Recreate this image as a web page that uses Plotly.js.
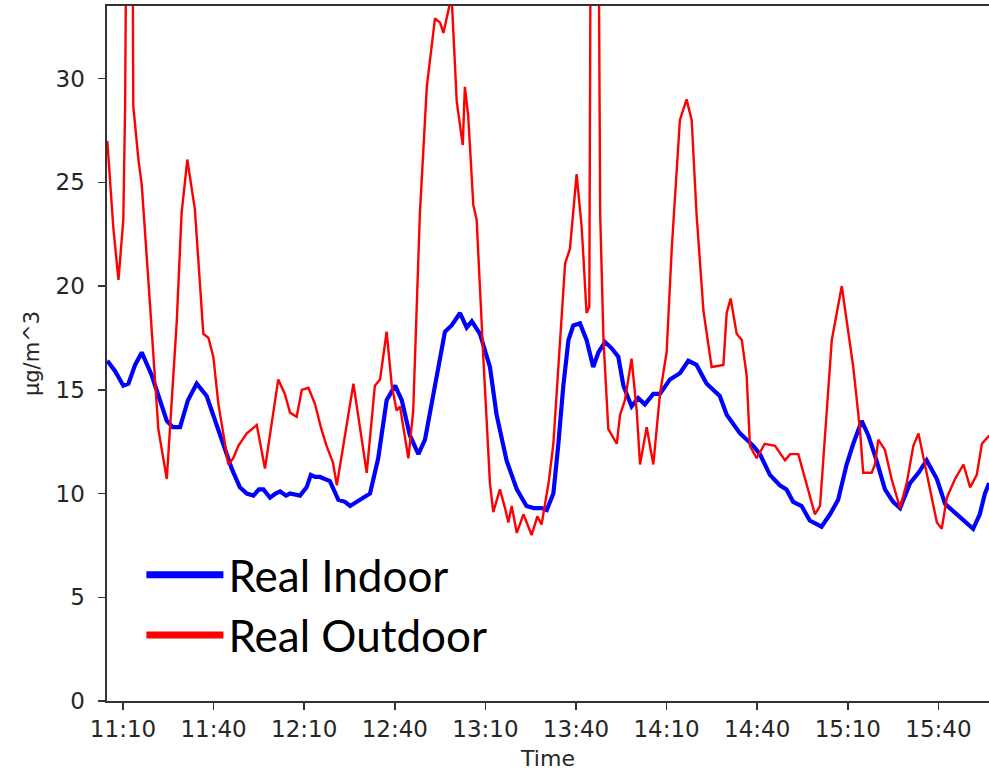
<!DOCTYPE html>
<html>
<head>
<meta charset="utf-8">
<script src="https://cdn.plot.ly/plotly-3.0.1.min.js"></script>
<style>html,body{margin:0;padding:0;background:#fff;}#chart{width:989px;height:771px;}</style>
</head>
<body>
<div id="chart"></div>
<script>
// Minutes after 11:00 and PM concentration (µg/m^3)
var outdoorMinutes = [4.8,6.8,8.5,10.1,10.7,11.2,13.1,13.4,15.1,16.2,18.9,21.7,24.5,27.8,29.4,31.3,33.8,35.5,36.6,38.3,39.9,41.6,44.9,46.5,48.2,51.0,54.3,57.0,61.4,63.6,65.3,67.5,69.2,71.4,73.6,75.5,77.4,79.5,80.8,86.3,90.7,93.4,95.1,97.3,99.0,100.6,101.7,104.5,106.1,108.3,110.6,113.3,115.0,116.1,117.7,118.8,120.5,122.5,123.2,124.3,126.0,127.1,129.3,131.5,132.6,134.8,136.5,137.6,138.7,140.4,142.6,145.3,147.2,148.6,151.0,152.5,156.4,158.0,160.2,161.9,163.5,164.4,164.9,167.4,168.0,169.1,170.7,173.5,174.6,176.2,178.4,180.1,181.2,183.4,185.6,187.8,190.0,191.7,194.4,196.6,198.3,199.9,202.2,204.9,208.8,209.9,211.2,213.2,214.9,216.5,217.6,219.8,222.5,225.9,229.2,230.9,233.6,235.8,239.1,240.8,242.5,244.7,248.0,250.2,251.8,254.0,255.1,257.9,259.0,260.1,262.3,264.5,267.3,269.5,271.7,273.4,275.0,277.3,279.5,281.1,282.8,285.5,288.3,290.5,292.7,294.4,296.8];
var outdoorValues = [27.0,22.8,20.3,23.2,28.7,40,40,28.7,26.1,24.9,19.2,13.1,10.7,18.3,23.5,26.1,23.7,20.0,17.7,17.5,16.6,14.3,11.4,11.7,12.3,12.9,13.3,11.2,15.5,14.8,13.9,13.7,15.0,15.1,14.3,13.2,12.3,11.5,10.4,15.3,11.0,15.2,15.5,17.8,15.2,14.0,14.2,11.7,14.0,23.5,29.6,32.9,32.7,32.2,33.2,34.0,28.9,26.8,29.6,28.2,23.9,23.2,16.6,10.5,9.1,10.2,9.3,8.6,9.4,8.1,9.0,8.0,8.9,8.5,10.6,12.4,21.1,21.8,25.4,22.8,18.7,19.0,40,40,23.5,17.4,13.1,12.4,13.8,14.5,16.5,14.0,11.4,13.2,11.4,14.8,16.8,21.8,28.0,29.0,28.0,23.5,18.8,16.1,16.2,18.7,19.4,17.7,17.4,15.7,12.3,11.7,12.4,12.3,11.6,11.9,11.9,10.7,9.0,9.4,13.1,17.4,20.0,17.8,16.1,13.1,11.0,11.0,11.4,12.6,12.1,10.7,9.3,10.5,12.3,12.9,11.8,10.2,8.6,8.3,9.8,10.7,11.4,10.3,10.9,12.4,12.8];

var indoorMinutes = [4.8,7.4,10.1,11.8,14.0,16.2,19.5,22.3,24.5,26.5,28.9,31.5,34.4,37.7,42.1,46.0,48.7,51.0,53.2,55.0,56.5,58.7,60.5,62.0,64.0,65.3,68.6,70.8,72.2,73.6,75.2,78.5,81.3,83.5,85.2,87.5,89.6,91.8,94.5,97.3,100.1,102.3,105.0,107.8,110.0,112.8,115.0,116.6,118.8,121.6,123.8,125.5,128.2,131.5,133.7,137.0,140.4,143.6,146.0,148.6,150.3,152.5,154.1,155.8,157.5,159.1,161.3,163.5,165.7,167.4,169.6,171.8,174.0,175.7,178.4,180.6,182.8,185.6,187.8,191.1,194.4,197.2,199.9,203.2,207.6,209.9,214.3,218.7,220.9,224.2,227.5,229.7,231.9,234.7,237.4,241.3,244.1,246.8,249.6,251.8,254.6,256.8,259.5,262.3,265.0,267.3,270.6,273.4,276.1,279.5,282.2,286.0,288.8,291.5,293.7,295.4,296.8];
var indoorValues = [16.4,15.9,15.2,15.3,16.2,16.8,15.7,14.5,13.5,13.2,13.2,14.5,15.3,14.7,12.9,11.2,10.3,10.0,9.9,10.2,10.2,9.8,10.0,10.1,9.9,10.0,9.9,10.3,10.9,10.8,10.8,10.6,9.7,9.6,9.4,9.6,9.8,10.0,11.7,14.5,15.2,14.5,12.8,11.9,12.6,14.8,16.8,17.8,18.1,18.7,18.0,18.3,17.7,16.1,13.8,11.6,10.2,9.4,9.3,9.3,9.2,10.0,12.3,15.2,17.4,18.1,18.2,17.4,16.1,16.8,17.3,17.0,16.6,15.2,14.2,14.6,14.3,14.8,14.8,15.5,15.8,16.4,16.2,15.3,14.7,13.8,12.9,12.3,11.9,10.9,10.4,10.2,9.6,9.4,8.7,8.4,9.0,9.7,11.4,12.4,13.5,12.8,11.6,10.2,9.6,9.3,10.5,11.0,11.6,10.7,9.5,9.0,8.6,8.3,9.0,10.0,10.5];

var seriesNames = ['Real Indoor', 'Real Outdoor'];
var seriesColors = ['#0000ff', '#ff0000'];
var xTickStart = '11:10';
var xRangeMinutes = [4.7, 296.75];
var yRange = [0, 33.5];

function toStamp(m) {
  var total = Math.round(m * 60);
  var h = 11 + Math.floor(total / 3600);
  var mm = Math.floor((total % 3600) / 60);
  var ss = total % 60;
  function p(n){ return (n < 10 ? '0' : '') + n; }
  return '2021-01-01 ' + p(h) + ':' + p(mm) + ':' + p(ss);
}

var traces = [
  {x: indoorMinutes.map(toStamp), y: indoorValues, name: seriesNames[0], legendgroup: 'in',
   showlegend: false, type: 'scatter', mode: 'lines', line: {color: seriesColors[0], width: 4.2}},
  {x: outdoorMinutes.map(toStamp), y: outdoorValues, name: seriesNames[1], legendgroup: 'out',
   showlegend: false, type: 'scatter', mode: 'lines', line: {color: seriesColors[1], width: 2.4}},
  // legend keys (thicker sample lines, as in the reference legend)
  {x: [null], y: [null], name: seriesNames[0], legendgroup: 'in', type: 'scatter', mode: 'lines',
   line: {color: seriesColors[0], width: 7}},
  {x: [null], y: [null], name: seriesNames[1], legendgroup: 'out', type: 'scatter', mode: 'lines',
   line: {color: seriesColors[1], width: 7}}
];

var textColor = '#262626';
var axisCommon = {
  showline: true, linecolor: '#333', linewidth: 1.6,
  ticks: 'outside', ticklen: 7, tickwidth: 1.5, tickcolor: '#333',
  showgrid: false, zeroline: false,
  tickfont: {family: 'DejaVu Sans', size: 23, color: textColor}
};

var layout = {
  width: 989, height: 771,
  margin: {l: 107, r: 0, t: 6, b: 70},
  paper_bgcolor: '#fff', plot_bgcolor: '#fff',
  showlegend: true,
  xaxis: Object.assign({}, axisCommon, {
    type: 'date', mirror: true,
    range: [toStamp(xRangeMinutes[0]), toStamp(xRangeMinutes[1])],
    tick0: '2021-01-01 ' + xTickStart, dtick: 30 * 60 * 1000, tickformat: '%H:%M',
    ticklabelstandoff: 0,
    title: {text: 'Time', font: {family: 'DejaVu Sans', size: 22, color: textColor}, standoff: 10}
  }),
  yaxis: Object.assign({}, axisCommon, {
    range: yRange, dtick: 5, mirror: false,
    ticklabelstandoff: 9,
    title: {text: 'µg/m^3', font: {family: 'DejaVu Sans', size: 21, color: textColor}, standoff: 10}
  }),
  legend: {
    x: 0.039, y: 0.232, xanchor: 'left', yanchor: 'top',
    bgcolor: 'rgba(0,0,0,0)', borderwidth: 0,
    itemwidth: 77, tracegroupgap: 0,
    font: {family: 'Lato', size: 44, color: '#000'}
  }
};

Plotly.newPlot('chart', traces, layout, {displayModeBar: false, staticPlot: true});
</script>
</body>
</html>
